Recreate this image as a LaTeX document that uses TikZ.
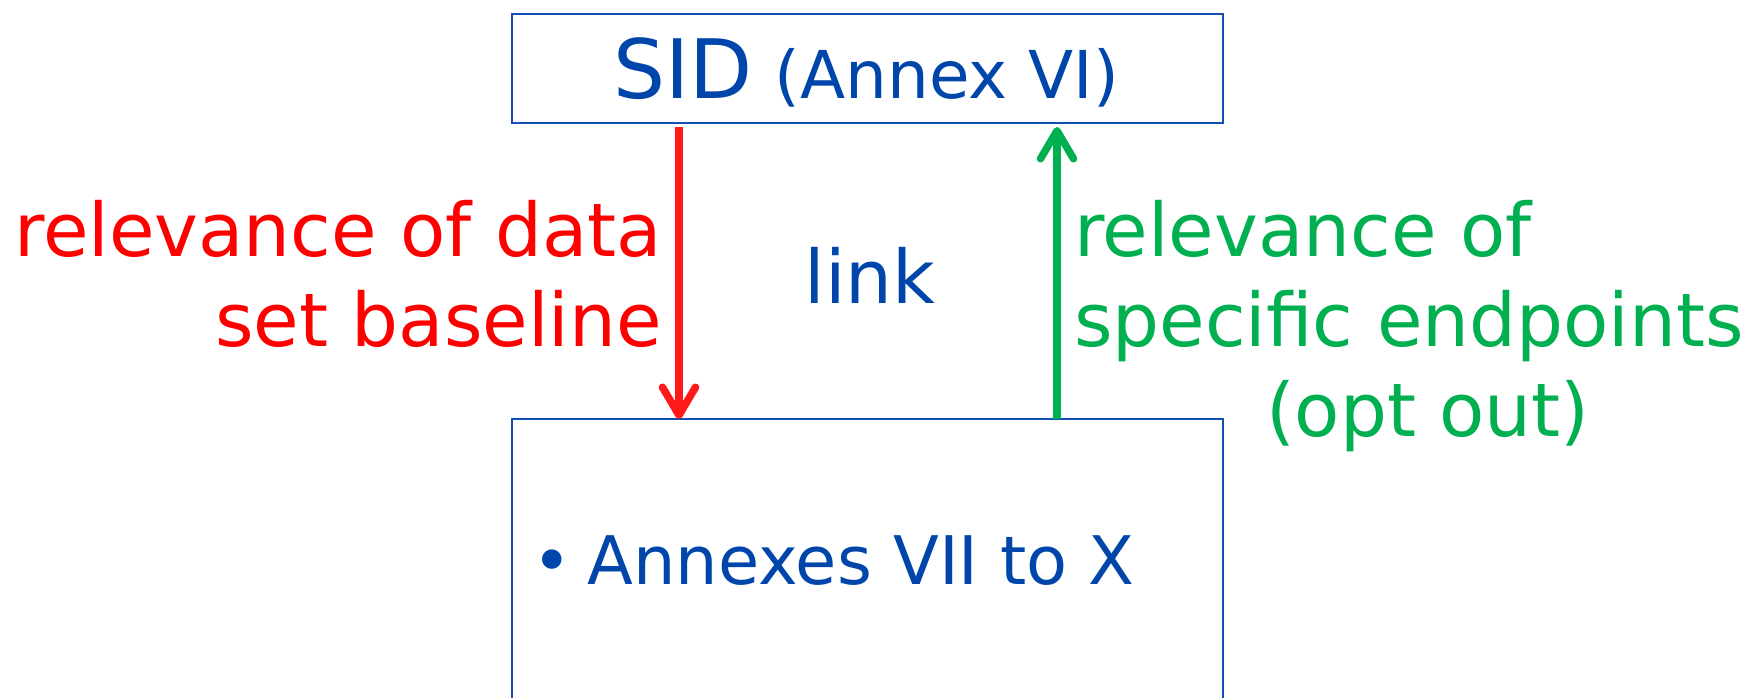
\documentclass[tikz,border=0pt]{standalone}
\usepackage{fontspec}
\setmainfont{DejaVu Sans}
\usetikzlibrary{arrows.meta,calc}
\definecolor{boxblue}{RGB}{20,80,180}
\definecolor{txtblue}{RGB}{0,70,170}
\definecolor{relred}{RGB}{255,0,0}
\definecolor{arrred}{RGB}{255,25,25}
\definecolor{relgreen}{RGB}{0,176,80}
\tikzset{
  panel/.style={draw=boxblue, line width=2pt, inner sep=0pt, outer sep=0pt},
  flow/.style={line width=7.5pt, -{Straight Barb[length=28pt,width=33pt,round]}},
  lbl/.style={inner sep=0pt, outer sep=0pt},
  big/.style={font=\fontsize{74}{90}\selectfont}
}
\begin{document}
\begin{tikzpicture}[x=1pt,y=-1pt]
  \useasboundingbox (0,0) rectangle (1748,698);
  \clip (0,0) rectangle (1748,698);

  % the two panels
  \node[panel, minimum width=711pt, minimum height=109pt] (sid) at (867.5,68.5) {};
  \node[panel, minimum width=711pt, minimum height=320pt, anchor=north west] (annex) at (512,419) {};

  % panel titles
  \node[lbl, anchor=base, text=txtblue] (sidtitle) at (866,99)
    {\fontsize{82}{90}\selectfont SID\hspace{22pt}\fontsize{66}{80}\selectfont (Annex VI)};
  \node[lbl, anchor=base west, text=txtblue, font=\fontsize{67}{80}\selectfont] (annextitle) at (532,584)
    {•\hspace{16pt}Annexes VII to X};

  % connectors between the panels
  \draw[flow, draw=arrred] ($(sid.south west)+(167,4)$) -- ($(annex.north west)+(167,0)$);
  \draw[flow, draw=relgreen] ($(annex.north west)+(545,0)$) -- ($(sid.south west)+(545,4)$);

  % labels
  \node[lbl, big, anchor=base, text=txtblue] (link) at (870,303) {link};
  \node[lbl, big, anchor=north east, align=right, text=relred] (downlbl) at (662,200)
    {relevance of data\\ set baseline};
  \node[lbl, big, anchor=north west, align=left, text=relgreen] (uplbl) at (1074,200)
    {relevance of\\ specific endpoints\\ \hspace*{192pt}(opt out)};
\end{tikzpicture}
\end{document}
